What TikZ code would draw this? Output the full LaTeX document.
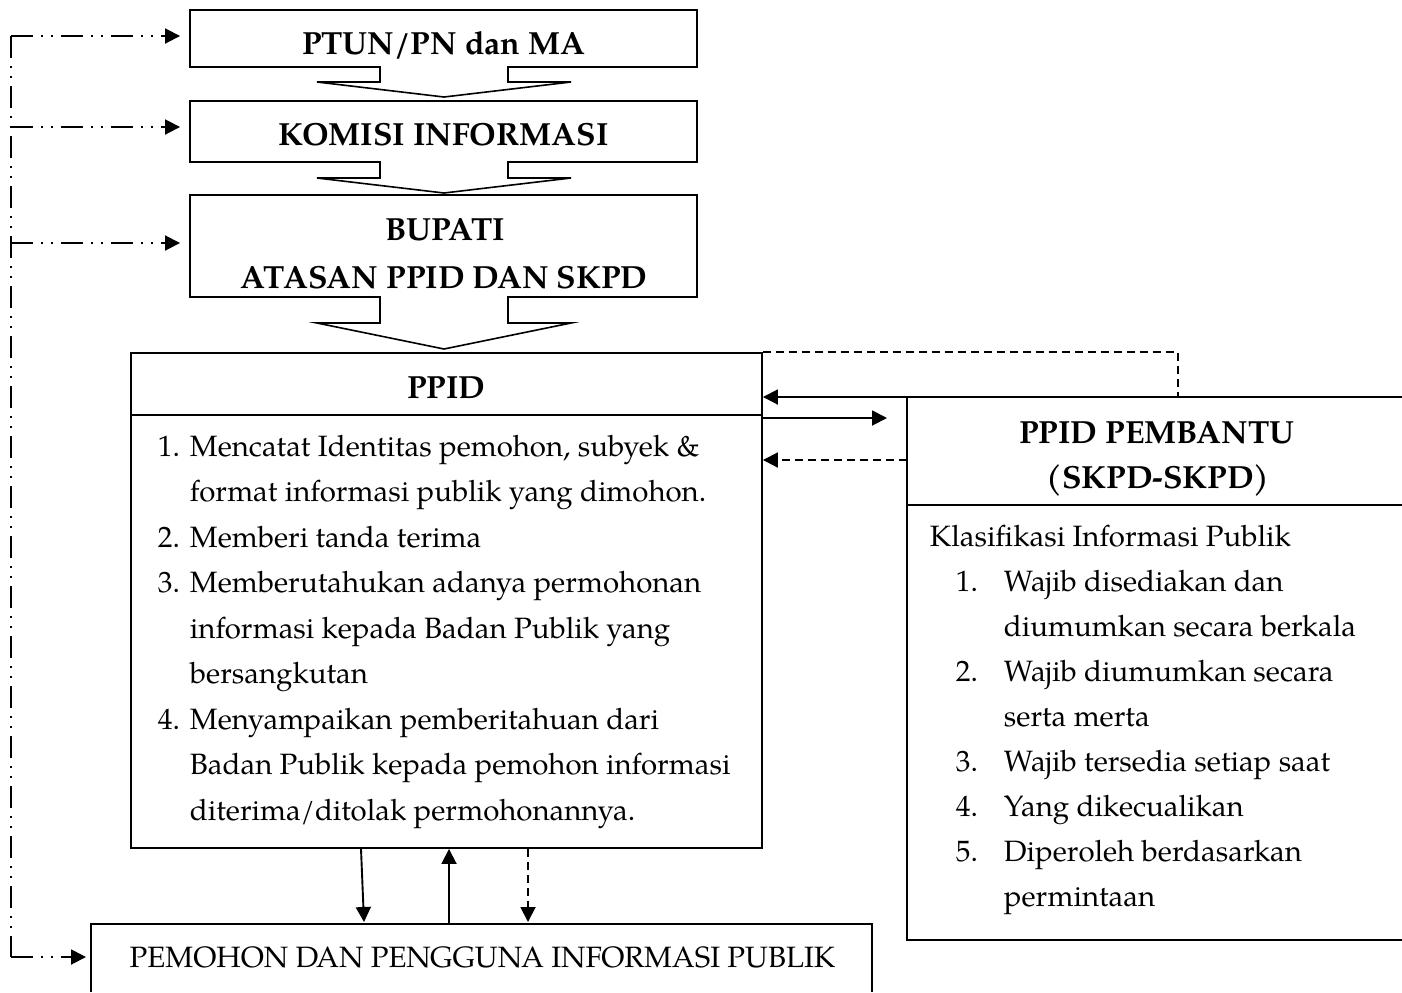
\documentclass[tikz,border=0pt]{standalone}
\usepackage{fontspec}
\setmainfont{texgyrepagella}[Extension=.otf, UprightFont=*-regular, BoldFont=*-bold, ItalicFont=*-italic, BoldItalicFont=*-bolditalic]
\usetikzlibrary{arrows.meta}
\begin{document}
\begin{tikzpicture}[x=0.5pt,y=-0.5pt, line width=0.95pt,
  boxs/.style={draw, minimum width=253.5pt, inner sep=0pt},
  pbox/.style={draw, minimum width=315.5pt, inner sep=0pt},
  hd/.style={font=\fontsize{16}{20}\selectfont\bfseries, inner sep=0pt, anchor=base},
  bd/.style={font=\fontsize{14.7}{18}\selectfont, inner sep=0pt, anchor=base west},
  tip/.style={-{Triangle[length=7.5pt,width=7.5pt]}},
  dd/.style={dash pattern=on 11pt off 4pt on 1pt off 4pt on 1pt off 4pt},
  dsh/.style={dash pattern=on 4pt off 2.5pt},
  blk/.style={line width=0.8pt, line join=miter},
]
\useasboundingbox (0,0) rectangle (1402,992);

% top boxes
\node[boxs, minimum height=28.5pt] (b1) at (443.5,38.5) {};
\node[boxs, minimum height=30.5pt] (b2) at (443.5,131.5) {};
\node[boxs, minimum height=51pt] (b3) at (443.5,246) {};
\node[hd] (t1) at (443.5,54) {PTUN/PN dan MA};
\node[hd] (t2) at (443.5,145) {KOMISI INFORMASI};
\node[hd] (t3a) at (445,240) {BUPATI};
\node[hd] (t3b) at (444,288) {ATASAN PPID DAN SKPD};

% block arrows
\fill[white] (381,65) rectangle (507,82);
\draw[blk] (380,67) -- (380,82) -- (317,82) -- (444,97) -- (571,82) -- (508,82) -- (508,67);
\fill[white] (381,160) rectangle (507,178);
\draw[blk] (380,162) -- (380,178) -- (317,178) -- (444,193) -- (571,178) -- (508,178) -- (508,162);
\fill[white] (381,295) rectangle (507,323);
\draw[blk] (380,297) -- (380,323) -- (317,323) -- (444,349) -- (571,323) -- (508,323) -- (508,297);

% PPID
\node[pbox, minimum height=31pt] (ph) at (446.5,384) {};
\node[pbox, minimum height=216.5pt] (pb) at (446.5,631.5) {};
\node[hd] (pt) at (446.5,398) {PPID};

\node[bd] (n1) at (157,456) {1.};
\node[bd] (l1) at (189,456) {Mencatat Identitas pemohon, subyek \&};
\node[bd] (l2) at (189,501.5) {format informasi publik yang dimohon.};
\node[bd] (n2) at (157,547) {2.};
\node[bd] (l3) at (189,547) {Memberi tanda terima};
\node[bd] (n3) at (157,592.5) {3.};
\node[bd] (l4) at (189,592.5) {Memberutahukan adanya permohonan};
\node[bd] (l5) at (189,638) {informasi kepada Badan Publik yang};
\node[bd] (l6) at (189,683.5) {bersangkutan};
\node[bd] (n4) at (157,729) {4.};
\node[bd] (l7) at (189,729) {Menyampaikan pemberitahuan dari};
\node[bd] (l8) at (189,774.5) {Badan Publik kepada pemohon informasi};
\node[bd] (l9) at (189,820) {diterima/ditolak permohonannya.};

% PPID PEMBANTU box (open to the right edge)
\coordinate (rbNW) at (907,397);
\coordinate (rbTop) at (1178,397);
\draw (1402,397) -- (rbNW) -- (907,940) -- (1402,940);
\draw (907,505) -- (1402,505);
\node[hd] (rh1) at (1157,443) {PPID PEMBANTU};
\node[hd] (rh2) at (1158,488) {(SKPD-SKPD)};
\node[bd] (rk) at (929,546) {Klasifikasi Informasi Publik};
\node[bd] (rn1) at (955,591) {1.};
\node[bd] (r1) at (1003,591) {Wajib disediakan dan};
\node[bd] (r2) at (1003,636) {diumumkan secara berkala};
\node[bd] (rn2) at (955,681) {2.};
\node[bd] (r3) at (1003,681) {Wajib diumumkan secara};
\node[bd] (r4) at (1003,726) {serta merta};
\node[bd] (rn3) at (955,771) {3.};
\node[bd] (r5) at (1003,771) {Wajib tersedia setiap saat};
\node[bd] (rn4) at (955,816) {4.};
\node[bd] (r6) at (1003,816) {Yang dikecualikan};
\node[bd] (rn5) at (955,861) {5.};
\node[bd] (r7) at (1003,861) {Diperoleh berdasarkan};
\node[bd] (r8) at (1003,906) {permintaan};

% PEMOHON box (open at the bottom edge)
\coordinate (pmL) at (91,924);
\coordinate (pmR) at (872,924);
\draw (91,992) -- (pmL) -- (pmR) -- (872,992);
\node[font=\fontsize{14.7}{18}\selectfont, inner sep=0pt, anchor=base] (pm) at (482.5,967) {PEMOHON DAN PENGGUNA INFORMASI PUBLIK};

% connectors PPID <-> PPID PEMBANTU
\coordinate (ra2) at (887,418);
\coordinate (ra3) at (907,460);
\draw[tip] (rbNW) -- (pb.east |- rbNW);
\draw[tip] (pb.east |- ra2) -- (ra2);
\draw[dsh,tip] (ra3) -- (pb.east |- ra3);
\draw[dsh] (ph.north east) -| (rbTop);

% connectors PPID <-> PEMOHON
\coordinate (d1) at (364,922);
\coordinate (u1) at (449,924);
\coordinate (d2) at (528,922);
\draw[tip] ([xshift=-42.75pt]pb.south) -- (d1);
\draw[tip] (u1) -- ([xshift=1.25pt]pb.south);
\draw[dsh,tip] ([xshift=40.75pt]pb.south) -- (d2);

% left dash-dot feedback line
\coordinate (L0) at (11,36);
\coordinate (L1) at (11,127);
\coordinate (L2) at (11,243);
\coordinate (L3) at (11,957);
\draw[dd] (L0) -- (L3);
\draw[dd,tip,shorten >=4.5pt] (L0) -- (b1.west |- L0);
\draw[dd,tip,shorten >=4.5pt] (L1) -- (b2.west |- L1);
\draw[dd,tip,shorten >=4.5pt] (L2) -- (b3.west |- L2);
\draw[dd,tip,shorten >=2.5pt] (L3) -- (pmL |- L3);
\end{tikzpicture}
\end{document}
